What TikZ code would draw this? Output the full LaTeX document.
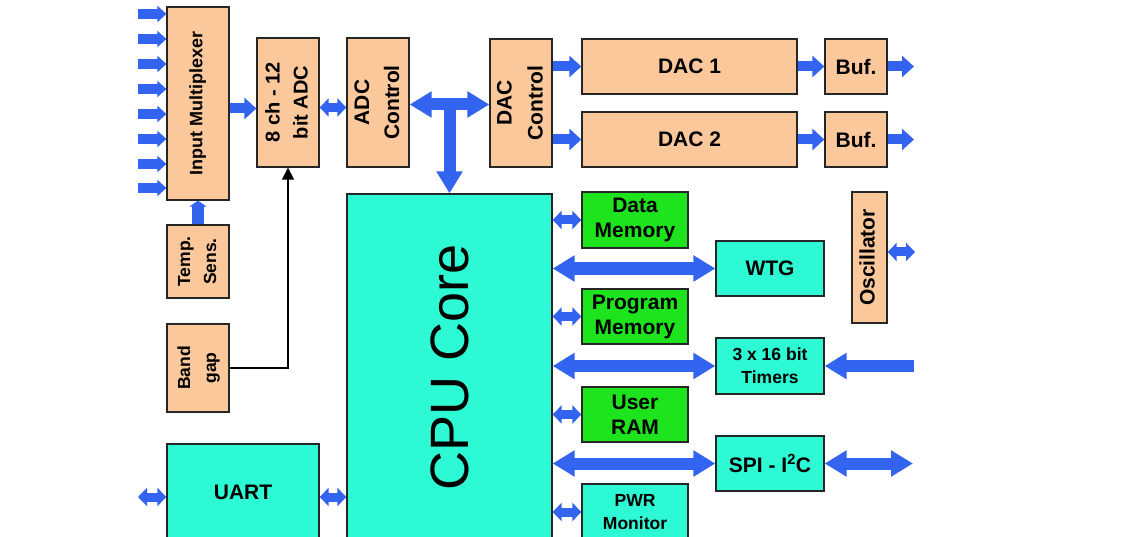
\documentclass[tikz,border=0pt]{standalone}
\usepackage{fontspec}
\setmainfont{Liberation Sans}
\usepackage{graphicx}
\usepackage{tikz}
\usetikzlibrary{arrows.meta}
\definecolor{mypeach}{RGB}{250,200,155}
\definecolor{mycyan}{RGB}{45,250,212}
\definecolor{mygreen}{RGB}{30,228,30}
\definecolor{myblue}{RGB}{50,100,240}
\newcommand{\vtext}[1]{\rotatebox{90}{\begin{tabular}{@{}c@{}}#1\end{tabular}}}

\begin{document}
\begin{tikzpicture}[x=1pt,y=-1pt,
  blk/.style={draw=black!85, line width=1.3pt, inner sep=0pt, align=center,
    font=\bfseries\fontsize{21}{25}\selectfont},
  peach/.style={blk, fill=mypeach},
  cyanbox/.style={blk, fill=mycyan},
  greenbox/.style={blk, fill=mygreen},
  inarr/.style={draw=myblue, line width=10pt, -{Triangle[width=16pt,length=9pt]}},
  sarr/.style={draw=myblue, line width=10pt, -{Triangle[width=21pt,length=12pt]}},
  darr/.style={draw=myblue, line width=9pt, {Triangle[width=18pt,length=9pt]}-{Triangle[width=18pt,length=9pt]}},
  bus/.style={draw=myblue, line width=12pt, {Triangle[width=25pt,length=22pt]}-{Triangle[width=25pt,length=22pt]}},
  sbus/.style={draw=myblue, line width=12pt, -{Triangle[width=25pt,length=22pt]}},
  wire/.style={draw=black, line width=1.3pt, -{Triangle[width=12pt,length=12pt]}},
]
\useasboundingbox (0,0) rectangle (1145,537);
\clip (0,0) rectangle (1145,537);

% analog front end
\node[peach, minimum width=62, minimum height=193, font=\bfseries\fontsize{18}{22}\selectfont]
  (mux) at (198,103.5) {\vtext{Input Multiplexer}};
\node[peach, minimum width=62, minimum height=129, font=\bfseries\fontsize{20}{28}\selectfont]
  (adc) at (288,102.5) {\vtext{8 ch - 12\\bit ADC}};
\node[peach, minimum width=62, minimum height=129, font=\bfseries\fontsize{21}{30}\selectfont]
  (adcctl) at (378,102.5) {\vtext{ADC\\Control}};
\node[peach, minimum width=62, minimum height=73, font=\bfseries\fontsize{17.5}{26}\selectfont]
  (temp) at (198,261.5) {\vtext{Temp.\\Sens.}};
\node[peach, minimum width=62, minimum height=88, font=\bfseries\fontsize{17.5}{26}\selectfont]
  (band) at (198,368) {\vtext{Band\\gap}};

% DAC side
\node[peach, minimum width=62, minimum height=128, font=\bfseries\fontsize{21}{31}\selectfont]
  (dacctl) at (521,103) {\vtext{DAC\\Control}};
\node[peach, minimum width=215, minimum height=55] (dac1) at (689.5,66.5) {DAC 1};
\node[peach, minimum width=215, minimum height=55] (dac2) at (689.5,139.5) {DAC 2};
\node[peach, minimum width=62, minimum height=55] (buf1) at (856,66.5) {Buf.};
\node[peach, minimum width=62, minimum height=55] (buf2) at (856,139.5) {Buf.};
\node[peach, minimum width=35, minimum height=131] (osc) at (869.5,257.5) {\vtext{Oscillator}};

% core and peripherals
\node[cyanbox, minimum width=205, minimum height=346] (cpu) at (449.5,367)
  {\rotatebox{90}{\mdseries\fontsize{54}{60}\selectfont CPU Core}};
\node[cyanbox, minimum width=152, minimum height=96] (uart) at (243,492) {UART};
\node[greenbox, minimum width=106, minimum height=56] (dmem) at (635,220) {Data\\Memory};
\node[greenbox, minimum width=106, minimum height=55] (pmem) at (635,316.5) {Program\\Memory};
\node[greenbox, minimum width=106, minimum height=55] (uram) at (635,414.5) {User\\RAM};
\node[cyanbox, minimum width=106, minimum height=56, font=\bfseries\fontsize{17.5}{23}\selectfont]
  (pwr) at (635,512) {PWR\\Monitor};
\node[cyanbox, minimum width=108, minimum height=55] (wtg) at (770,268.5) {WTG};
\node[cyanbox, minimum width=108, minimum height=56, font=\bfseries\fontsize{17.5}{23}\selectfont]
  (tmr) at (770,366) {3 x 16 bit\\Timers};
\node[cyanbox, minimum width=108, minimum height=55] (spi) at (770,463.5) {SPI - I\textsuperscript{2}C};

% free ends
\coordinate (out1) at (914,66.5);
\coordinate (out2) at (914,139.5);
\coordinate (oscout) at (915,252);
\coordinate (tin) at (914,366);
\coordinate (spiout) at (913,463.5);
\coordinate (uin) at (138,497);

% input channels
\foreach \yy [count=\i] in {14,39,64,89,114,139,164,188} {
  \coordinate (in\i) at (138,\yy);
  \draw[inarr] (in\i) -- (in\i -| mux.west);
}
\draw[sarr] ([yshift=-5pt]mux.east) -- ([yshift=-5pt]mux.east -| adc.west);
\draw[darr] ([yshift=-5pt]adc.east) -- ([yshift=-5pt]adcctl.west);
\draw[sarr, line width=12pt, -{Triangle[width=17pt,length=6pt]}] (temp.north) -- (mux.south);
\draw[wire] (band.east) -| (adc.south);

% data bus
\draw[bus] ([yshift=-2pt]adcctl.east) -- ([yshift=-2pt]adcctl.east -| dacctl.west);
\draw[sbus] ([yshift=-2pt]adcctl.east -| cpu.north) -- (cpu.north);

% DAC outputs
\draw[sarr] (dacctl.east |- dac1.west) -- (dac1.west);
\draw[sarr] (dacctl.east |- dac2.west) -- (dac2.west);
\draw[sarr] (dac1.east) -- (buf1.west);
\draw[sarr] (dac2.east) -- (buf2.west);
\draw[sarr] (buf1.east) -- (out1);
\draw[sarr] (buf2.east) -- (out2);
\draw[darr] (osc.east |- oscout) -- (oscout);

% CPU links
\draw[darr] (cpu.east |- dmem.west) -- (dmem.west);
\draw[darr] (cpu.east |- pmem.west) -- (pmem.west);
\draw[darr] (cpu.east |- uram.west) -- (uram.west);
\draw[darr] (cpu.east |- pwr.west) -- (pwr.west);
\draw[bus] (cpu.east |- wtg.west) -- (wtg.west);
\draw[bus] (cpu.east |- tmr.west) -- (tmr.west);
\draw[bus] (cpu.east |- spi.west) -- (spi.west);
\draw[sbus] (tin) -- (tmr.east);
\draw[bus] (spi.east) -- (spiout);

% UART
\draw[darr] (uin) -- (uin -| uart.west);
\draw[darr] (uin -| uart.east) -- (uin -| cpu.west);

\end{tikzpicture}
\end{document}
